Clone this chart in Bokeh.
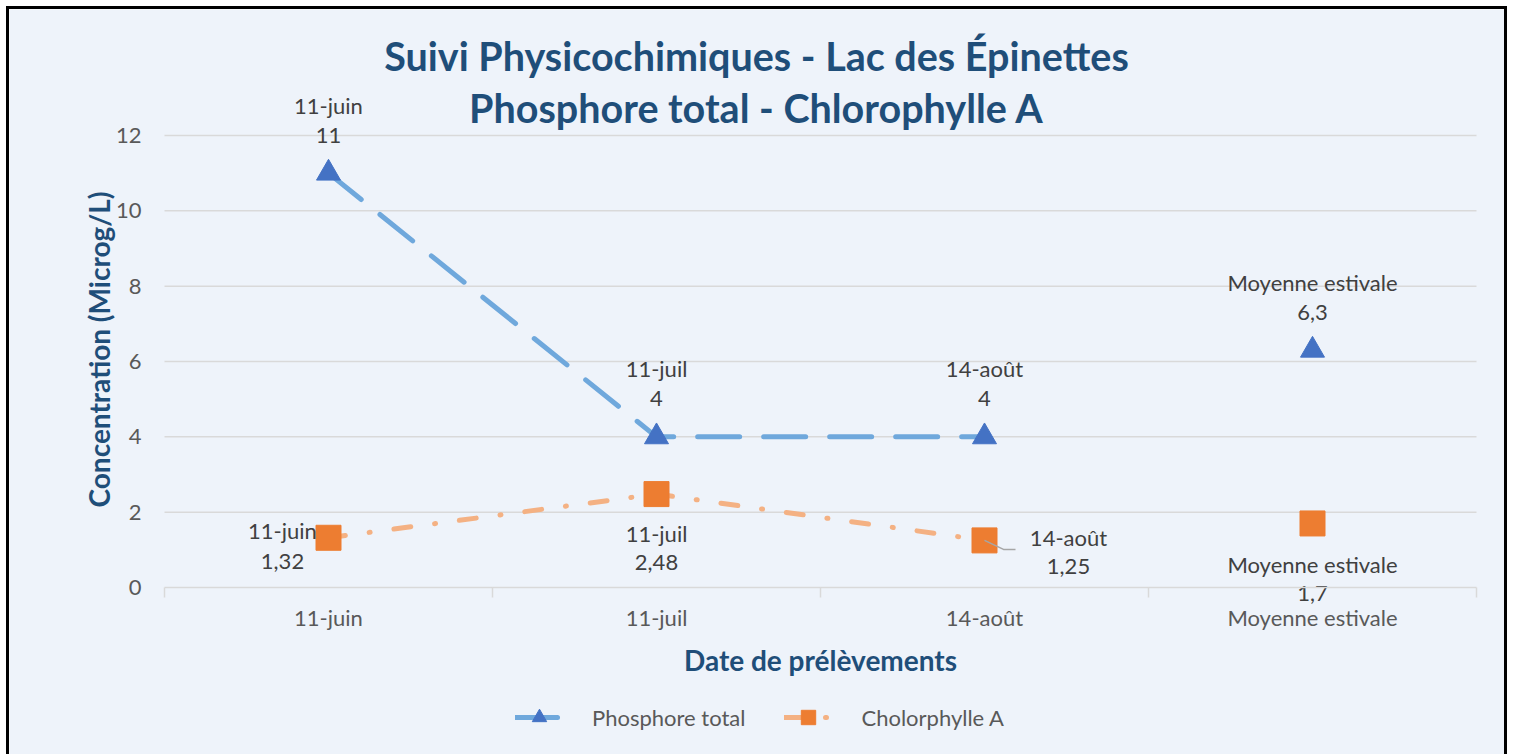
from math import pi

from bokeh.plotting import figure
from bokeh.models import FixedTicker, Label, Legend, LegendItem, Range1d
from bokeh.core.properties import value
from bokeh.embed import file_html
from bokeh.resources import INLINE

# ---------------- data ----------------
dates = ["11-juin", "11-juil", "14-août", "Moyenne estivale"]
phosphore = [11, 4, 4, 6.3]
chlorophylle = [1.32, 2.48, 1.25, 1.7]
n_measured = 3  # the summer mean (last point) is not joined by the line
y_ticks = [0, 2, 4, 6, 8, 10, 12]
series_names = ["Phosphore total", "Cholorphylle A"]
title_lines = ["Suivi Physicochimiques - Lac des Épinettes",
               "Phosphore total - Chlorophylle A"]
x_title = "Date de prélèvements"
y_title = "Concentration (Microg/L)"

# ---------------- label placement (pixels) ----------------
phos_date_dy = -68
phos_val_dy = -38
chl_dx = [-46, 0, 84, 0]
chl_date_dy = [-7, 39, -3, 41]
chl_val_dy = [24, 68, 26, 70]

# ---------------- layout (page pixels) ----------------
W, H = 1501, 748
OX, OY = 9, 9                 # canvas origin on the page
PLOT_L, PLOT_R = 164, 1476    # page x of category axis ends
Y0_PAGE, Y12_PAGE = 587, 135  # page y of 0 and 12
PX_X = (PLOT_R - PLOT_L) / len(dates)
PX_Y = (Y0_PAGE - Y12_PAGE) / 12

x_start = -(PLOT_L - OX) / PX_X
y_top = 12 + (Y12_PAGE - OY) / PX_Y


def sx(page_x):
    return page_x - OX


def sy(page_y):
    return H - (page_y - OY)


FONT = "Lato"
BG = "#EEF3FA"
DARK = "#1F4E79"
GREY_TXT = "#595959"
LBL_TXT = "#404040"
GRID = "#D9D9D9"


def fr(v):
    return f"{v:g}".replace(".", ",")


xs = [i + 0.5 for i in range(len(dates))]

p = figure(width=W, height=H, output_backend="svg", toolbar_location=None,
           x_range=Range1d(x_start, x_start + W / PX_X),
           y_range=Range1d(y_top - H / PX_Y, y_top),
           min_border_left=0, min_border_right=0, min_border_top=0,
           min_border_bottom=0)
p.styles = {"margin-left": "6px", "margin-top": "6px",
            "border": "3px solid #000000", "border-bottom": "none"}
p.background_fill_color = BG
p.border_fill_color = BG
p.outline_line_color = None
p.grid.visible = False

# y axis (drawn at x = 0)
p.yaxis.fixed_location = 0
p.yaxis.ticker = FixedTicker(ticks=y_ticks)
p.yaxis.axis_line_color = None
p.yaxis.major_tick_line_color = None
p.yaxis.minor_tick_line_color = None
p.yaxis.major_tick_in = 0
p.yaxis.major_tick_out = 0
p.yaxis.minor_tick_in = 0
p.yaxis.minor_tick_out = 0
p.yaxis.major_label_standoff = 23
p.yaxis.major_label_text_font = FONT
p.yaxis.major_label_text_font_size = "22px"
p.yaxis.major_label_text_color = GREY_TXT

# x axis (drawn at y = 0)
p.xaxis.fixed_location = 0
p.xaxis.bounds = (0, len(dates))
p.xaxis.ticker = FixedTicker(ticks=xs, minor_ticks=list(range(len(dates) + 1)))
p.xaxis.major_label_overrides = {x: d for x, d in zip(xs, dates)}
p.xaxis.axis_line_color = GRID
p.xaxis.axis_line_width = 1.5
p.xaxis.major_tick_line_color = None
p.xaxis.major_tick_in = 0
p.xaxis.major_tick_out = 0
p.xaxis.minor_tick_line_color = GRID
p.xaxis.minor_tick_line_width = 1.5
p.xaxis.minor_tick_in = 0
p.xaxis.minor_tick_out = 10
p.xaxis.major_label_standoff = 6
p.xaxis.major_label_text_font = FONT
p.xaxis.major_label_text_font_size = "22px"
p.xaxis.major_label_text_color = GREY_TXT

# horizontal gridlines limited to the plot area
grid_y = [t for t in y_ticks if t > 0]
p.segment(x0=[0] * len(grid_y), x1=[len(dates)] * len(grid_y), y0=grid_y, y1=grid_y,
          line_color=GRID, line_width=1.5)

# series
mx = xs[:n_measured]
phos_line = p.line(mx, phosphore[:n_measured], line_color="#6FA8DC", line_width=5,
                   line_dash="42 24", line_cap="round")
chl_line = p.line(mx, chlorophylle[:n_measured], line_color="#F4B183", line_width=5,
                  line_dash="17 24 1 24", line_cap="round")
phos_pts = p.scatter(xs, phosphore, marker="triangle", size=24,
                     fill_color="#4472C4", line_color="#4472C4")
chl_pts = p.scatter(xs, chlorophylle, marker="square", size=25,
                    fill_color="#ED7D31", line_color="#ED7D31")

# leader line for the 14-août chlorophylle label
k = 2
p.line([xs[k], xs[k] + 19 / PX_X, xs[k] + 31 / PX_X],
       [chlorophylle[k], chlorophylle[k] - 9 / PX_Y, chlorophylle[k] - 9 / PX_Y],
       line_color="#A6A6A6", line_width=1.5)

txt = dict(text_align="center", text_baseline="middle", text_font=value(FONT),
           text_font_size="22px", text_color=LBL_TXT)
p.text(x=xs, y=phosphore, text=dates, y_offset=phos_date_dy, **txt)
p.text(x=xs, y=phosphore, text=[fr(v) for v in phosphore], y_offset=phos_val_dy, **txt)
p.text(x=xs, y=chlorophylle, text=dates, x_offset=chl_dx, y_offset=chl_date_dy, **txt)
p.text(x=xs, y=chlorophylle, text=[fr(v) for v in chlorophylle], x_offset=chl_dx,
       y_offset=chl_val_dy, **txt)

# titles
for line, page_y in zip(title_lines, [55, 107]):
    p.add_layout(Label(x=sx(756), y=sy(page_y), x_units="screen", y_units="screen",
                       text=line, text_align="center", text_baseline="middle",
                       text_font=FONT, text_font_style="bold", text_font_size="39.5px",
                       text_color=DARK))
p.add_layout(Label(x=sx(98), y=sy(349), x_units="screen", y_units="screen", text=y_title,
                   angle=pi / 2, text_align="center", text_baseline="middle",
                   text_font=FONT, text_font_style="bold", text_font_size="28px",
                   text_color=DARK))
p.add_layout(Label(x=sx((PLOT_L + PLOT_R) / 2), y=sy(659), x_units="screen",
                   y_units="screen", text=x_title, text_align="center",
                   text_baseline="middle", text_font=FONT, text_font_style="bold",
                   text_font_size="28px", text_color=DARK))

legend = Legend(items=[LegendItem(label=series_names[0], renderers=[phos_line, phos_pts]),
                       LegendItem(label=series_names[1], renderers=[chl_line, chl_pts])],
                location=(sx(515), sy(735)), orientation="horizontal", glyph_width=48,
                glyph_height=36, label_height=36, label_standoff=29, spacing=39,
                padding=0, margin=0, border_line_color=None, background_fill_alpha=0,
                label_text_font=FONT, label_text_font_size="22px",
                label_text_color=GREY_TXT)
p.add_layout(legend)

open("out.html", "w").write(file_html(p, INLINE))
